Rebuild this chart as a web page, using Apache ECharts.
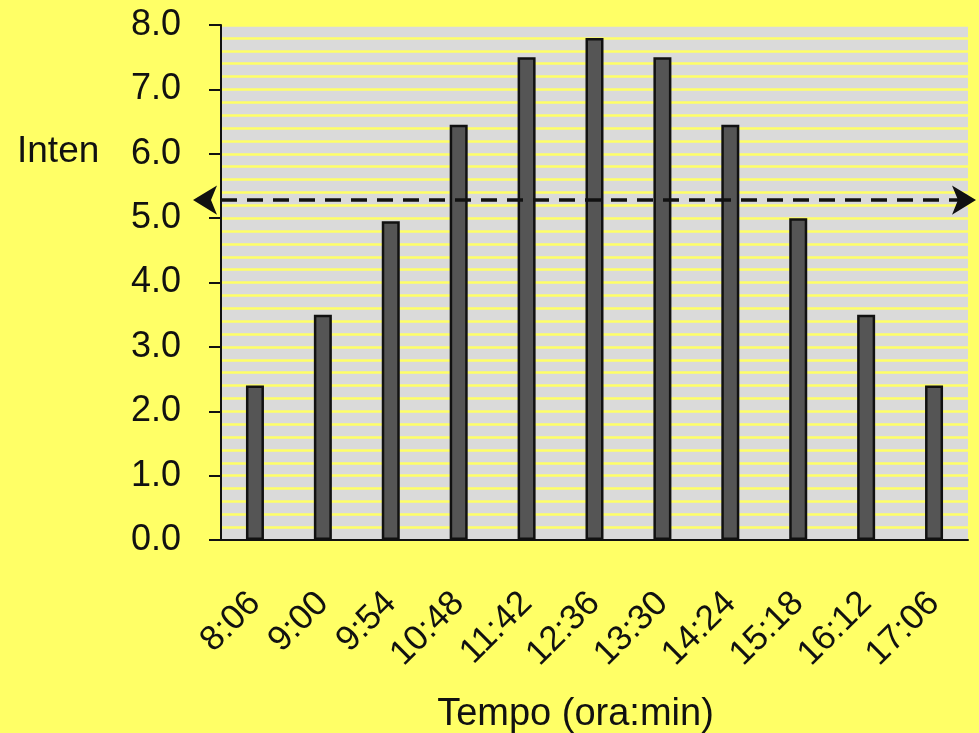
<!DOCTYPE html>
<html>
<head>
<meta charset="utf-8">
<script src="https://cdn.jsdelivr.net/npm/echarts@6/dist/echarts.min.js"></script>
<style>
  html, body { margin: 0; padding: 0; background: #ffff66; }
  #chart { width: 979px; height: 733px; }
</style>
</head>
<body>
<div id="chart"></div>
<script>
// tempo (ora:min)
const categories = ['8:06', '9:00', '9:54', '10:48', '11:42', '12:36', '13:30', '14:24', '15:18', '16:12', '17:06'];
// intensita
const values = [2.4, 3.5, 4.95, 6.45, 7.5, 7.8, 7.5, 6.45, 5.0, 3.5, 2.4];
// livello medio (linea tratteggiata)
const mediaLevel = 5.28;
const yTicks = { min: 0, max: 8, interval: 1 };

const chart = echarts.init(document.getElementById('chart'));
chart.setOption({
  backgroundColor: '#ffff66',
  animation: false,
  title: {
    text: 'Inten',
    left: 12,
    top: 128,
    textStyle: {
      fontFamily: 'Liberation Sans',
      fontWeight: 'normal',
      fontSize: 37,
      color: '#111'
    }
  },
  grid: {
    left: 221,
    right: 11,
    top: 25,
    bottom: 193,
    outerBoundsMode: 'none',
    containLabel: false,
    show: true,
    backgroundColor: '#dadada',
    borderWidth: 0
  },
  xAxis: {
    type: 'category',
    data: categories,
    name: 'Tempo (ora:min)',
    nameLocation: 'middle',
    nameGap: 156,
    nameTextStyle: {
      fontFamily: 'Liberation Sans',
      fontSize: 38,
      color: '#111',
      padding: [0, 38, 0, 0]
    },
    axisLine: {
      lineStyle: { color: '#111', width: 2 }
    },
    axisTick: { show: false },
    axisLabel: {
      rotate: 45,
      margin: 58,
      fontFamily: 'Liberation Sans',
      fontSize: 35,
      color: '#111'
    }
  },
  yAxis: {
    type: 'value',
    min: yTicks.min,
    max: yTicks.max,
    interval: yTicks.interval,
    axisLine: {
      show: true,
      lineStyle: { color: '#111', width: 2 }
    },
    axisTick: {
      show: true,
      length: 12,
      lineStyle: { color: '#111', width: 2 }
    },
    axisLabel: {
      margin: 40,
      fontFamily: 'Liberation Sans',
      fontSize: 36,
      color: '#111',
      formatter: function(v) {
        return v.toFixed(1);
      }
    },
    splitLine: {
      show: true,
      lineStyle: { color: '#ffff66', width: 2.5 }
    },
    minorTick: { show: false, splitNumber: 5 },
    minorSplitLine: {
      show: true,
      lineStyle: { color: '#ffff66', width: 2.5 }
    }
  },
  series: [
    {
      type: 'bar',
      data: values,
      barWidth: 18,
      itemStyle: {
        color: '#555555',
        borderColor: '#111',
        borderWidth: 2.5
      },
      markLine: {
        silent: true,
        symbol: ['arrow', 'arrow'],
        symbolSize: [22, 24],
        symbolOffset: [[0, -28], [0, -8]],
        label: { show: false },
        lineStyle: {
          color: '#111',
          type: [16, 10],
          width: 3.5
        },
        data: [{ yAxis: mediaLevel }]
      }
    }
  ]
});
</script>
</body>
</html>
